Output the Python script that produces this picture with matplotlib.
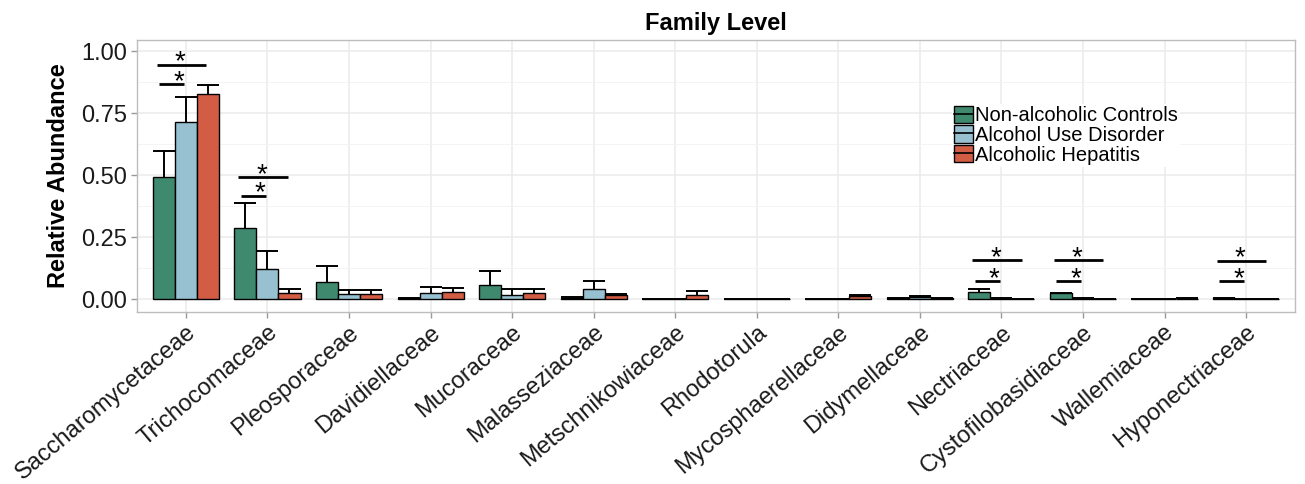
import matplotlib
matplotlib.use("Agg")
import matplotlib.pyplot as plt
import numpy as np
from matplotlib.patches import Patch
from matplotlib.lines import Line2D

plt.rcParams['font.family'] = ['Liberation Sans', 'DejaVu Sans']

# ---- data -----------------------------------------------------------------
families = ["Saccharomycetaceae", "Trichocomaceae", "Pleosporaceae", "Davidiellaceae",
            "Mucoraceae", "Malasseziaceae", "Metschnikowiaceae", "Rhodotorula",
            "Mycosphaerellaceae", "Didymellaceae", "Nectriaceae", "Cystofilobasidiaceae",
            "Wallemiaceae", "Hyponectriaceae"]

groups = ["Non-alcoholic Controls", "Alcohol Use Disorder", "Alcoholic Hepatitis"]

controls    = [0.493, 0.289, 0.071, 0.004, 0.056, 0.007, 0.001, 0.001, 0.001, 0.004, 0.029, 0.024, 0.001, 0.004]
controls_se = [0.105, 0.098, 0.065, 0.002, 0.057, 0.002, 0.001, 0.000, 0.001, 0.002, 0.011, 0.003, 0.001, 0.001]
aud         = [0.715, 0.124, 0.020, 0.025, 0.019, 0.042, 0.001, 0.001, 0.002, 0.010, 0.003, 0.003, 0.001, 0.002]
aud_se      = [0.101, 0.071, 0.016, 0.025, 0.021, 0.033, 0.001, 0.000, 0.001, 0.004, 0.001, 0.001, 0.001, 0.001]
ah          = [0.827, 0.025, 0.020, 0.028, 0.027, 0.016, 0.017, 0.001, 0.012, 0.005, 0.002, 0.002, 0.003, 0.002]
ah_se       = [0.036, 0.018, 0.016, 0.019, 0.016, 0.004, 0.018, 0.000, 0.004, 0.002, 0.001, 0.001, 0.001, 0.001]

# significance brackets: family index, height of lower / upper bracket
sig_families = [0, 1, 10, 11, 13]
sig_low      = [0.868, 0.418, 0.074, 0.074, 0.074]
sig_high     = [0.946, 0.492, 0.157, 0.157, 0.155]

colors = ["#3F8A6F", "#97C1D1", "#D35C45"]

# ---- figure ---------------------------------------------------------------
fig = plt.figure(figsize=(13.05, 4.84), dpi=100)
ax = fig.add_axes([137 / 1305, 1 - 311.7 / 484, (1295 - 137) / 1305, (311.7 - 40) / 484])

x = np.arange(1, len(families) + 1)
bw = 0.27
series = [(controls, controls_se), (aud, aud_se), (ah, ah_se)]

for i, ((vals, se), col) in enumerate(zip(series, colors)):
    xs = x + (i - 1) * bw
    vals = np.asarray(vals)
    se = np.asarray(se)
    ax.bar(xs, vals, width=bw, color=col, edgecolor="black", linewidth=1.0, zorder=3)
    ax.vlines(xs, vals, vals + se, color="black", linewidth=1.4, zorder=4)
    ax.hlines(vals + se, xs - bw / 2, xs + bw / 2, color="black", linewidth=1.4, zorder=4)

# significance markers
for f, lo, hi in zip(sig_families, sig_low, sig_high):
    c = x[f]
    ax.hlines(hi, c - 0.36, c + 0.25, color="black", linewidth=2.0, zorder=5)
    ax.hlines(lo, c - 0.33, c - 0.02, color="black", linewidth=2.0, zorder=5)
    ax.annotate("*", xy=(c - 0.07, hi), xytext=(0, -3.5), textcoords="offset points",
                ha="center", va="baseline", fontsize=20, zorder=6)
    ax.annotate("*", xy=(c - 0.09, lo), xytext=(0, -3.5), textcoords="offset points",
                ha="center", va="baseline", fontsize=20, zorder=6)

# axes styling
ax.set_xlim(0.4, len(families) + 0.6)
ax.set_ylim(-0.05, 1.045)
ax.set_yticks([0, 0.25, 0.5, 0.75, 1.0])
ax.set_yticklabels(["0.00", "0.25", "0.50", "0.75", "1.00"], fontsize=17, color="#1a1a1a")
ax.set_yticks([0.125, 0.375, 0.625, 0.875], minor=True)
ax.set_xticks(x)
ax.set_xticklabels(families, rotation=40, ha="right", va="top", rotation_mode="anchor",
                   fontsize=17, color="#1a1a1a")
ax.tick_params(axis="both", which="major", length=4, width=1, color="#999999", pad=3)
ax.tick_params(axis="y", which="minor", length=0)
ax.grid(True, which="major", color="#EBEBEB", linewidth=1.1, zorder=0)
ax.grid(True, which="minor", axis="y", color="#F2F2F2", linewidth=0.6, zorder=0)
ax.set_axisbelow(True)
for s in ax.spines.values():
    s.set_color("#BDBDBD")
    s.set_linewidth(1.0)

ax.set_ylabel("Relative Abundance", fontsize=17, fontweight="bold", labelpad=8)
ax.set_title("Family Level", fontsize=17, fontweight="bold", pad=7)

# legend: filled key with the error-bar line across it
handles = [(Patch(facecolor=c, edgecolor="black", linewidth=1.0),
            Line2D([], [], color="black", linewidth=1.2)) for c in colors]
leg = ax.legend(handles, groups, loc="upper left", bbox_to_anchor=(0.704, 0.765),
                fontsize=14.5, frameon=True, facecolor="white", edgecolor="none",
                framealpha=1, borderpad=0.1, handlelength=0.95, handleheight=0.95,
                handletextpad=0.1, labelspacing=0.0, borderaxespad=0)
leg.set_zorder(7)

fig.savefig("out.png", dpi=100)
